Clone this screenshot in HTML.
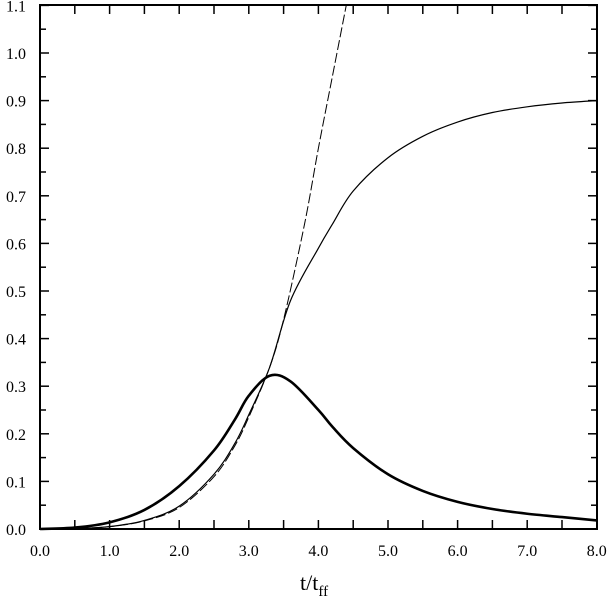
<!DOCTYPE html>
<html><head><meta charset="utf-8"><style>
body{margin:0;background:#fff;}
svg text{font-family:"Liberation Serif",serif;fill:#000;}
</style></head><body>
<svg id="chart" width="610" height="606" viewBox="0 0 610 606">
<rect x="40" y="5" width="557" height="524" fill="none" stroke="#000" stroke-width="2"/>
<g id="ticks"></g>
<g id="series"></g>
<text x="300" y="590" font-size="22">t/t<tspan font-size="15" dy="6">ff</tspan></text>
</svg>
<script>
const xTicks=[0,1,2,3,4,5,6,7,8];
const yTicks=[0,0.1,0.2,0.3,0.4,0.5,0.6,0.7,0.8,0.9,1.0,1.1];
const xs=[0,0.5,1.0,1.5,2.0,2.5,2.8,3.0,3.3,3.6,4.0,4.2,4.5,5.0,5.5,6.0,6.5,7.0,7.5,8.0];
const thick=[0,0.003,0.014,0.04,0.09,0.165,0.23,0.28,0.322,0.31,0.25,0.215,0.17,0.115,0.08,0.057,0.042,0.032,0.025,0.018];
const thin=[0,0.001,0.005,0.018,0.048,0.115,0.18,0.24,0.34,0.48,0.59,0.64,0.71,0.78,0.825,0.855,0.875,0.887,0.895,0.9];
const dashX=[0,0.5,1.0,1.5,2.0,2.5,2.8,3.0,3.3,3.5,3.8,4.0,4.2,4.4];
const dashY=[0,0.001,0.005,0.017,0.045,0.11,0.175,0.235,0.34,0.44,0.64,0.8,0.95,1.1];
const X=v=>40+v*69.6, Y=v=>529-v*476;
const NS='http://www.w3.org/2000/svg';
const tg=document.getElementById('ticks'), sg=document.getElementById('series');
function ln(g,x1,y1,x2,y2,w){const l=document.createElementNS(NS,'line');l.setAttribute('x1',x1);l.setAttribute('y1',y1);l.setAttribute('x2',x2);l.setAttribute('y2',y2);l.setAttribute('stroke','#000');l.setAttribute('stroke-width',w);g.appendChild(l);return l;}
xTicks.forEach((t,i)=>{
 const l1=ln(tg,X(t),529,X(t),520,1.5);
 
 
 const l2=ln(tg,X(t),5,X(t),14,1.5);
 
 
 if(i<xTicks.length-1){const m=t+0.5;
  const a=ln(tg,X(m),529,X(m),520,1.5);
  const b=ln(tg,X(m),5,X(m),14,1.5);}
 const tx=document.createElementNS(NS,'text');
 
 
 tx.setAttribute('x',X(t));tx.setAttribute('y',556);tx.setAttribute('font-size','16');tx.setAttribute('text-anchor','middle');
 tx.textContent=t.toFixed(1);tg.appendChild(tx);
});
yTicks.forEach((t,i)=>{
 const l1=ln(tg,40,Y(t),49,Y(t),1.5);
 
 
 const l2=ln(tg,597,Y(t),588,Y(t),1.5);
 
 
 if(i<yTicks.length-1){const m=t+0.05;
  const a=ln(tg,40,Y(m),46,Y(m),1.5);
  const b=ln(tg,597,Y(m),591,Y(m),1.5);}
 const tx=document.createElementNS(NS,'text');
 
 
 tx.setAttribute('x',26);tx.setAttribute('y',Y(t)+6);tx.setAttribute('font-size','16');tx.setAttribute('text-anchor','end');
 tx.textContent=t.toFixed(1);tg.appendChild(tx);
});
function path(xv,yv,w,dash,name){
 const pts=xv.map((x,i)=>[X(x),Y(yv[i])]);
 let d='M'+pts[0][0]+','+pts[0][1];
 for(let i=0;i<pts.length-1;i++){
  const p0=pts[Math.max(0,i-1)],p1=pts[i],p2=pts[i+1],p3=pts[Math.min(pts.length-1,i+2)];
  const c1=[p1[0]+(p2[0]-p0[0])/6,p1[1]+(p2[1]-p0[1])/6],c2=[p2[0]-(p3[0]-p1[0])/6,p2[1]-(p3[1]-p1[1])/6];
  d+=' C'+c1+' '+c2+' '+p2;
 }
 const p=document.createElementNS(NS,'path');
 
 
 p.setAttribute('d',d);p.setAttribute('fill','none');p.setAttribute('stroke','#000');p.setAttribute('stroke-width',w);
 if(dash)p.setAttribute('stroke-dasharray',dash);
 sg.appendChild(p);
}
path(dashX,dashY,1,'10,3','dashed-curve');
path(xs,thin,1.2,null,'thin-curve');
path(xs,thick,2.6,null,'thick-curve');
</script>
</body></html>
